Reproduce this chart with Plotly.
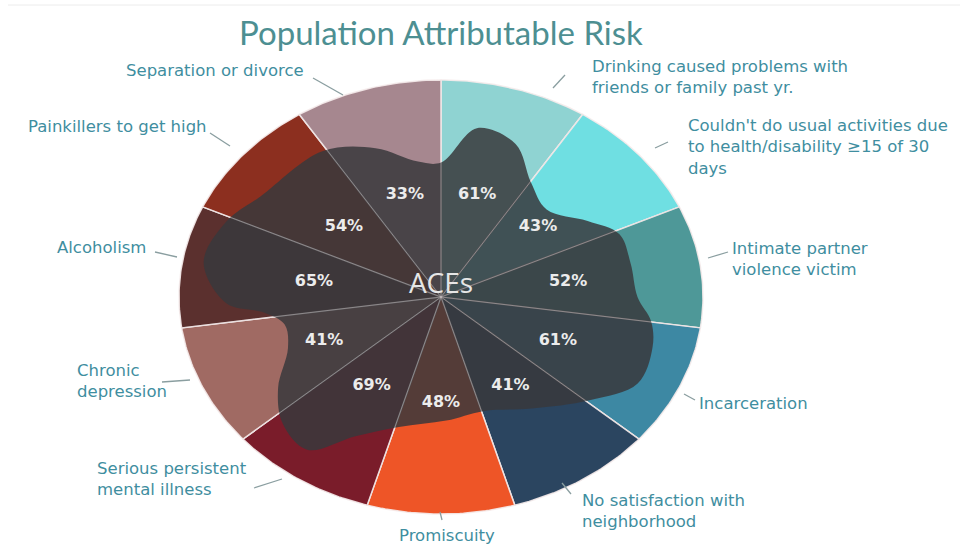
import math
import plotly.graph_objects as go

# ---------------- data ----------------
categories = [
    "Drinking caused problems with<br>friends or family past yr.",
    "Couldn't do usual activities due<br>to health/disability ≥15 of 30<br>days",
    "Intimate partner<br>violence victim",
    "Incarceration",
    "No satisfaction with<br>neighborhood",
    "Promiscuity",
    "Serious persistent<br>mental illness",
    "Chronic<br>depression",
    "Alcoholism",
    "Painkillers to get high",
    "Separation or divorce",
]
par_values = [61, 43, 52, 61, 41, 48, 69, 41, 65, 54, 33]
slice_colors = ["#8fd3d2", "#6fdfe2", "#4e9898", "#3d88a3", "#2b4560", "#ee5527",
                "#7a1c2a", "#a06a63", "#5b302e", "#8c2f1f", "#a6878f"]

# decorative dark "blob" outline (angle in degrees, relative radius)
blob_angle = [90, 80, 68, 57, 45, 32, 23, 12, 0, -8, -16, -28, -40, -56, -73, -88, -105,
              -117, -126, -136, -146, -158, -168, -174, -178, -190, -203, -214, -236, -250, -262]
blob_radius = [0.62, 0.79, 0.76, 0.63, 0.57, 0.66, 0.74, 0.74, 0.75, 0.81, 0.84, 0.85, 0.74,
               0.62, 0.55, 0.57, 0.62, 0.72, 0.87, 0.84, 0.75, 0.63, 0.61, 0.68, 0.82, 0.92,
               0.89, 0.83, 0.81, 0.73, 0.63]

W, H = 969, 548
CX, CY = 441, 297      # pie centre in pixels
RX, RY = 262, 217      # ellipse radii in pixels

fig = go.Figure()
n = len(categories)
step = 360.0 / n

# slices
for i, (cat, col) in enumerate(zip(categories, slice_colors)):
    a0 = 90 - i * step
    a1 = a0 - step
    xs, ys = [0.0], [0.0]
    k = 40
    for j in range(k + 1):
        a = math.radians(a0 + (a1 - a0) * j / k)
        xs.append(math.cos(a)); ys.append(math.sin(a))
    xs.append(0.0); ys.append(0.0)
    fig.add_trace(go.Scatter(x=xs, y=ys, fill="toself", fillcolor=col, mode="lines",
                             line=dict(color="rgba(245,235,235,0.9)", width=1.5),
                             hoverinfo="skip", showlegend=False))

# blob overlay
bx = [r * math.cos(math.radians(a)) for a, r in zip(blob_angle, blob_radius)]
by = [r * math.sin(math.radians(a)) for a, r in zip(blob_angle, blob_radius)]
bx += bx[:1]; by += by[:1]
fig.add_trace(go.Scatter(x=bx, y=by, fill="toself", fillcolor="rgba(56,56,60,0.85)",
                         mode="lines", line=dict(color="rgba(0,0,0,0)", width=0, shape="spline",
                                                 smoothing=1.0),
                         hoverinfo="skip", showlegend=False))

# spokes visible over the blob
for i in range(n):
    a = math.radians(90 - i * step)
    fig.add_trace(go.Scatter(x=[0, math.cos(a)], y=[0, math.sin(a)], mode="lines",
                             line=dict(color="rgba(230,220,220,0.4)", width=1),
                             hoverinfo="skip", showlegend=False))

# percentage labels
lx, ly, lt = [], [], []
for i, v in enumerate(par_values):
    a = math.radians(90 - (i + 0.5) * step)
    lx.append(0.49 * math.cos(a)); ly.append(0.49 * math.sin(a)); lt.append(f"{v}%")
fig.add_trace(go.Scatter(x=lx, y=ly, mode="text", text=lt,
                         textfont=dict(family="DejaVu Sans", size=16, color="#ececec",
                                       weight="bold"),
                         hoverinfo="skip", showlegend=False))

fig.add_trace(go.Scatter(x=[0], y=[0.05], mode="text", text=["ACEs"],
                         textfont=dict(family="Open Sans", size=28, color="#e6e6e6"),
                         hoverinfo="skip", showlegend=False))

# outer labels (pixel positions) and leader lines
label_pos = [
    (590, 77, "left"),
    (686, 147, "left"),
    (730, 259, "left"),
    (697, 403, "left"),
    (580, 511, "left"),
    (447, 535, "center"),
    (95, 479, "left"),
    (75, 381, "left"),
    (55, 247, "left"),
    (26, 127, "left"),
    (124, 70, "left"),
]
leaders = [
    ((553, 88), (565, 75)),
    ((655, 148), (668, 142)),
    ((708, 258), (728, 252)),
    ((684, 394), (695, 400)),
    ((562, 483), (571, 494)),
    ((440, 512), (442, 520)),
    ((254, 488), (282, 479)),
    ((162, 382), (190, 380)),
    ((155, 252), (177, 257)),
    ((210, 133), (230, 146)),
    ((313, 78), (343, 95)),
]
annotations = []
for cat, (px, py, anc) in zip(categories, label_pos):
    annotations.append(dict(x=px / W, y=1 - py / H, xref="paper", yref="paper",
                            text=cat, showarrow=False, xanchor=anc, yanchor="middle",
                            align="left",
                            font=dict(family="DejaVu Sans", size=16.5, color="#3f8ea0")))
annotations.append(dict(x=441 / W, y=1 - 32 / H, xref="paper", yref="paper",
                        text="Population Attributable Risk", showarrow=False,
                        xanchor="center", yanchor="middle",
                        font=dict(family="Lato", size=33, color="#4d8f92")))

shapes = []
for (x0, y0), (x1, y1) in leaders:
    shapes.append(dict(type="line", xref="paper", yref="paper",
                       x0=x0 / W, y0=1 - y0 / H, x1=x1 / W, y1=1 - y1 / H,
                       line=dict(color="#8a9ea0", width=1.3)))
shapes.append(dict(type="line", xref="paper", yref="paper", x0=8 / W, x1=960 / W,
                   y0=1 - 5 / H, y1=1 - 5 / H, line=dict(color="#ececec", width=1)))

fig.update_layout(
    width=W, height=H,
    margin=dict(l=0, r=0, t=0, b=0),
    paper_bgcolor="white", plot_bgcolor="white",
    xaxis=dict(range=[-CX / RX, (W - CX) / RX], visible=False, fixedrange=True),
    yaxis=dict(range=[-(H - CY) / RY, CY / RY], visible=False, fixedrange=True),
    annotations=annotations, shapes=shapes,
    showlegend=False,
)

fig.write_html("out.html", config={"displayModeBar": False},
               post_script="document.body.style.margin='0px';document.body.style.overflow='hidden';")
